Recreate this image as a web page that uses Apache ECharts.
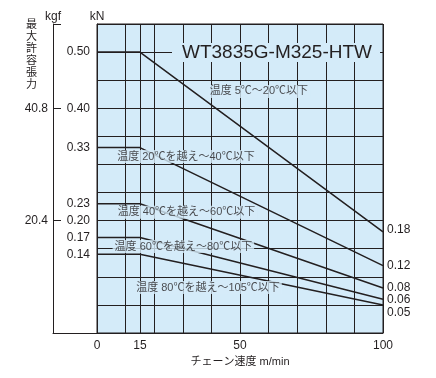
<!DOCTYPE html>
<html>
<head>
<meta charset="utf-8">
<script src="https://cdn.jsdelivr.net/npm/echarts@6/dist/echarts.min.js"></script>
<style>
    html, body { margin: 0; padding: 0; background: #fff; }
    #wt_chart { width: 436px; height: 378px; }
</style>
</head>
<body>
<div id="wt_chart"></div>
<script>
    // chain speed (m/min) where each curve bends
    var speeds = [0, 15, 100];
    // allowable tension (kN) per temperature range
    var t5_20 = [0.50, 0.50, 0.18];
    var t20_40 = [0.33, 0.33, 0.12];
    var t40_60 = [0.23, 0.23, 0.08];
    var t60_80 = [0.17, 0.17, 0.06];
    var t80_105 = [0.14, 0.14, 0.05];

    var tempNames = [
        '温度 5℃〜20℃以下',
        '温度 20℃を越え〜40℃以下',
        '温度 40℃を越え〜60℃以下',
        '温度 60℃を越え〜80℃以下',
        '温度 80℃を越え〜105℃以下'
    ];
    // where the temperature captions sit (speed, kN)
    var captionX = [56.6, 31.1, 31.3, 30.2, 38.8];
    var captionY = [0.430, 0.314, 0.215, 0.154, 0.081];

    var kNLabels = [0.14, 0.17, 0.20, 0.23, 0.33, 0.40, 0.50];
    var speedLabels = [0, 15, 50, 100];
    var kgfLabels = [20.4, 40.8];
    var kNMax = 0.55;
    var kgfMax = 56.1;

    var FONT = "'Liberation Sans', 'Noto Sans CJK JP', sans-serif";
    var INK = '#231f20';
    var BG = '#d4ebf9';

    function pairs(vals) {
        return speeds.map(function (s, i) { return [s, vals[i]]; });
    }

    var curves = [t5_20, t20_40, t40_60, t60_80, t80_105];
    var endOffsets = [[0, -2], [0, 0], [0, 0], [0, 0], [0, 8]];

    var series = curves.map(function (c, i) {
        return {
            name: tempNames[i],
            type: 'line',
            xAxisIndex: 0,
            yAxisIndex: 0,
            data: pairs(c),
            symbol: 'none',
            lineStyle: { color: INK, width: 1.5 },
            endLabel: {
                show: true,
                formatter: function (p) { return p.value[1].toFixed(2); },
                color: INK,
                fontSize: 12,
                fontFamily: FONT,
                distance: 4,
                offset: endOffsets[i]
            }
        };
    });
    // extra grid line at 15 m/min
    series[0].markLine = {
        silent: true,
        symbol: 'none',
        label: { show: false },
        lineStyle: { color: INK, type: 'solid', width: 1 },
        data: [{ xAxis: 15 }]
    };

    series.push({
        type: 'scatter',
        xAxisIndex: 0,
        yAxisIndex: 0,
        z: 10,
        symbolSize: 1,
        itemStyle: { color: 'rgba(0,0,0,0)' },
        data: tempNames.map(function (t, i) {
            return { name: t, value: [captionX[i], captionY[i]] };
        }),
        label: {
            show: true,
            position: 'inside',
            formatter: '{b}',
            color: INK,
            fontSize: 11,
            fontFamily: FONT,
            backgroundColor: BG,
            padding: [1, 2]
        }
    });

    var option = {
        animation: false,
        title: [{
            text: 'WT3835G-M325-HTW',
            left: 172,
            top: 43,
            padding: [0, 8, 0, 10],
            backgroundColor: BG,
            textStyle: { color: INK, fontSize: 19, fontWeight: 'normal', fontFamily: FONT, lineHeight: 19 }
        }, {
            text: '最\n大\n許\n容\n張\n力',
            left: 26,
            top: 19,
            padding: 0,
            textStyle: { color: INK, fontSize: 11, fontWeight: 'normal', fontFamily: FONT, lineHeight: 12 }
        }],
        grid: [{
            left: 97, right: 53, top: 24, bottom: 45,
            show: true,
            backgroundColor: BG,
            borderColor: INK,
            borderWidth: 1
        }, {
            left: 53, width: 44, top: 24, bottom: 45
        }],
        xAxis: [{
            gridIndex: 0,
            type: 'value',
            min: 0, max: 100, interval: 10,
            name: 'チェーン速度 m/min',
            nameLocation: 'middle',
            nameGap: 22,
            nameTextStyle: { color: INK, fontSize: 11, fontFamily: FONT },
            axisLine: { show: true, lineStyle: { color: INK, width: 1 } },
            axisTick: { show: false },
            axisLabel: {
                customValues: speedLabels,
                color: INK, fontSize: 12, fontFamily: FONT, margin: 7
            },
            splitLine: { show: true, lineStyle: { color: INK, width: 1 } }
        }, {
            gridIndex: 1,
            type: 'value',
            min: 0, max: 1,
            axisLine: { show: true, lineStyle: { color: INK, width: 1 } },
            axisTick: { show: false },
            axisLabel: { show: false },
            splitLine: { show: false }
        }],
        yAxis: [{
            gridIndex: 0,
            type: 'value',
            min: 0, max: kNMax, interval: 0.05,
            name: 'kN',
            nameLocation: 'end',
            nameGap: 1,
            nameTextStyle: { color: INK, fontSize: 12, fontFamily: FONT },
            axisLine: { show: true, lineStyle: { color: INK, width: 1 } },
            axisTick: { show: false },
            axisLabel: {
                customValues: kNLabels,
                formatter: function (v) { return v.toFixed(2); },
                color: INK, fontSize: 12, fontFamily: FONT, margin: 7
            },
            splitLine: { show: true, lineStyle: { color: INK, width: 1 } }
        }, {
            gridIndex: 1,
            type: 'value',
            position: 'left',
            min: 0, max: kgfMax, interval: 20.4,
            name: 'kgf',
            nameLocation: 'end',
            nameGap: 1,
            nameTextStyle: { color: INK, fontSize: 12, fontFamily: FONT },
            axisLine: { show: true, lineStyle: { color: INK, width: 1 } },
            axisTick: {
                show: true, inside: true, length: 8,
                customValues: [kgfLabels[0], kgfLabels[1], kgfMax],
                lineStyle: { color: INK, width: 1 }
            },
            axisLabel: {
                customValues: kgfLabels,
                formatter: function (v) { return v.toFixed(1); },
                color: INK, fontSize: 12, fontFamily: FONT, margin: 5
            },
            splitLine: { show: false }
        }],
        series: series
    };

    var chart = echarts.init(document.getElementById('wt_chart'));
    chart.setOption(option);
    window.addEventListener('resize', function () { chart.resize(); });
</script>
</body>
</html>
